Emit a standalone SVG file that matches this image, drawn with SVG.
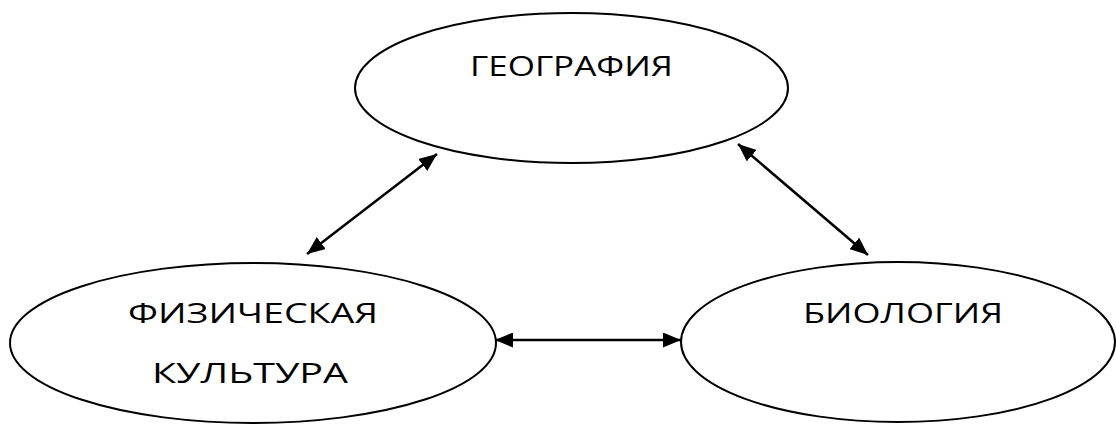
<svg xmlns="http://www.w3.org/2000/svg" width="1116" height="425" viewBox="0 0 1116 425">
<style>
.node{fill:#fff;stroke:#000;stroke-width:2}
.lbl{font-family:"Comic Sans MS","Open Sans","Liberation Sans",sans-serif;font-size:27px;fill:#000;text-anchor:middle}
.conn{stroke:#000;stroke-width:2.5;fill:none;marker-start:url(#ah);marker-end:url(#ah)}
</style>
<defs>
<marker id="ah" viewBox="0 0 18 15" refX="18" refY="7.5" markerWidth="18" markerHeight="15" markerUnits="userSpaceOnUse" orient="auto-start-reverse">
<path d="M0,0 L18,7.5 L0,15 Z" fill="#000"/>
</marker>
</defs>
<rect width="1116" height="425" fill="#fff"/>
<g id="geografiya">
<ellipse class="node" cx="571.5" cy="88" rx="216.5" ry="75"/>
<text class="lbl" x="571.5" y="76" textLength="203" lengthAdjust="spacingAndGlyphs">ГЕОГРАФИЯ</text>
</g>
<g id="fizkultura">
<ellipse class="node" cx="253" cy="343" rx="243" ry="80"/>
<text class="lbl" x="253" y="323" textLength="250" lengthAdjust="spacingAndGlyphs">ФИЗИЧЕСКАЯ</text>
<text class="lbl" x="250" y="383" textLength="196" lengthAdjust="spacingAndGlyphs">КУЛЬТУРА</text>
</g>
<g id="biologiya">
<ellipse class="node" cx="898" cy="342" rx="217" ry="80"/>
<text class="lbl" x="903" y="323" textLength="200" lengthAdjust="spacingAndGlyphs">БИОЛОГИЯ</text>
</g>
<g id="connectors">
<line class="conn" x1="307" y1="254" x2="437" y2="154"/>
<line class="conn" x1="738" y1="144" x2="868" y2="255"/>
<line class="conn" x1="495" y1="340" x2="681" y2="340"/>
</g>
</svg>
